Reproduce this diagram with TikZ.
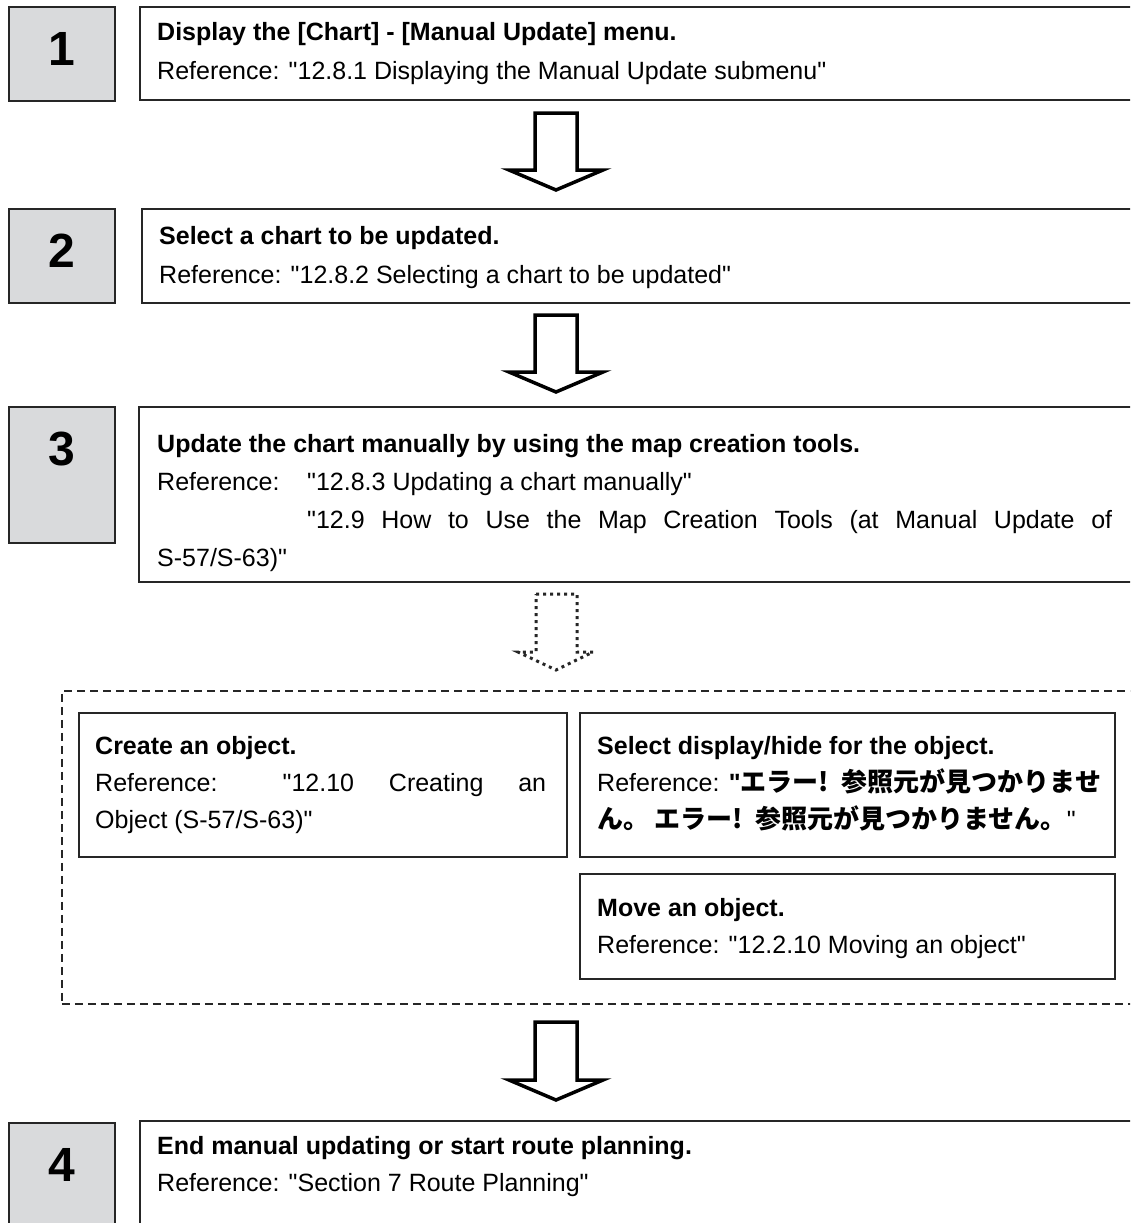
\documentclass[tikz,border=0pt]{standalone}
\usepackage{fontspec}
\setmainfont{Liberation Sans}[Ligatures=TeXOff]
\newfontfamily\cjk{Noto Sans CJK JP}[Ligatures=TeXOff]
\definecolor{grayfill}{HTML}{D9DADC}
\definecolor{edge}{HTML}{262626}
\newcommand{\blkarrow}[5]{% #1 style, #2 top, #3 shoulder, #4 tip, #5 half wing
  \draw[#1] (535,#2) -- (577,#2) -- (577,#3) -- (556+#5,#3) -- (556,#4) -- (556-#5,#3) -- (535,#3) -- cycle;}
\begin{document}
\begin{tikzpicture}[x=1pt,y=-1pt,
  numbox/.style={draw=edge, fill=grayfill, line width=2pt, minimum width=106pt, inner sep=0pt, anchor=north west},
  numtext/.style={font=\fontsize{48}{50}\selectfont\bfseries, inner sep=0pt, anchor=north, yshift=-26pt},
  txtbox/.style={draw=edge, fill=white, line width=2pt, inner sep=0pt, anchor=north west},
  txt/.style={inner sep=0pt, anchor=base west, font=\fontsize{25}{30}\selectfont},
  blk/.style={draw=black, fill=white, line width=3.5pt, line join=miter},
  dotblk/.style={draw=black!85, line width=3pt, dash pattern=on 3pt off 4pt},
  dashbox/.style={draw=edge, line width=1.5pt, dash pattern=on 8pt off 5pt}
]
\clip (0,0) rectangle (1130,1223);
\fill[white] (0,0) rectangle (1130,1223);

% step 1
\node[numbox, minimum height=94pt, label={[numtext]north:1}] (n1) at (8,6) {};
\node[txtbox, minimum width=1010pt, minimum height=93pt] (t1) at (139,6) {};
\node[txt] (t1a) at (157,41) {\bfseries Display the [Chart] - [Manual Update] menu.};
\node[txt] (t1b) at (157,79) {Reference: "12.8.1 Displaying the Manual Update submenu"};

\blkarrow{blk}{113}{170}{190}{47}

% step 2
\node[numbox, minimum height=94pt, label={[numtext]north:2}] (n2) at (8,208) {};
\node[txtbox, minimum width=1010pt, minimum height=94pt] (t2) at (141,208) {};
\node[txt] (t2a) at (159,244) {\bfseries Select a chart to be updated.};
\node[txt] (t2b) at (159,283) {Reference: "12.8.2 Selecting a chart to be updated"};

\blkarrow{blk}{315}{372}{392}{47}

% step 3
\node[numbox, minimum height=136pt, label={[numtext]north:3}] (n3) at (8,406) {};
\node[txtbox, minimum width=1010pt, minimum height=175pt] (t3) at (138,406) {};
\node[txt] (t3a) at (157,452) {\bfseries Update the chart manually by using the map creation tools.};
\node[txt] (t3b) at (157,490) {Reference:};
\node[txt] (t3c) at (307,490) {"12.8.3 Updating a chart manually"};
\node[txt] (t3d) at (307,528) {\makebox[805pt][s]{"12.9 How to Use the Map Creation Tools (at Manual Update of}};
\node[txt] (t3e) at (157,566) {S-57/S-63)"};

\draw[dotblk] (536,594) -- (577,594) -- (577,652) -- (593,652) -- (556,670) -- (518,652) -- (536,652) -- cycle;

% dashed group
\node[dashbox, inner sep=0pt, anchor=north west, minimum width=1090pt, minimum height=313pt] (grp) at (61,690) {};

\node[txtbox, minimum width=488pt, minimum height=144pt] (cr) at (78,712) {};
\node[txt] (cra) at (95,754) {\bfseries Create an object.};
\node[txt] (crb) at (95,791) {\makebox[451pt][s]{Reference: "12.10 Creating an}};
\node[txt] (crc) at (95,828) {Object (S-57/S-63)"};

\node[txtbox, minimum width=535pt, minimum height=144pt] (sel) at (579,712) {};
\node[txt] (sela) at (597,754) {\bfseries Select display/hide for the object.};
\node[txt] (selb) at (597,791) {Reference: {\bfseries"\cjk\bfseries\fontsize{26}{30}\selectfont エラー!\hspace{0.5em}参照元が見つかりませ}};
\node[txt] (selc) at (597,828) {{\cjk\bfseries\fontsize{26}{30}\selectfont ん。\hspace{0.2em}エラー!\hspace{0.5em}参照元が見つかりません。}"};

\node[txtbox, minimum width=535pt, minimum height=105pt] (mv) at (579,873) {};
\node[txt] (mva) at (597,916) {\bfseries Move an object.};
\node[txt] (mvb) at (597,953) {Reference: "12.2.10 Moving an object"};

\blkarrow{blk}{1022}{1080}{1100}{47}

% step 4
\node[numbox, minimum height=130pt, label={[numtext]north:4}] (n4) at (8,1122) {};
\node[txtbox, minimum width=1010pt, minimum height=130pt] (t4) at (139,1120) {};
\node[txt] (t4a) at (157,1154) {\bfseries End manual updating or start route planning.};
\node[txt] (t4b) at (157,1191) {Reference: "Section 7 Route Planning"};
\end{tikzpicture}
\end{document}
